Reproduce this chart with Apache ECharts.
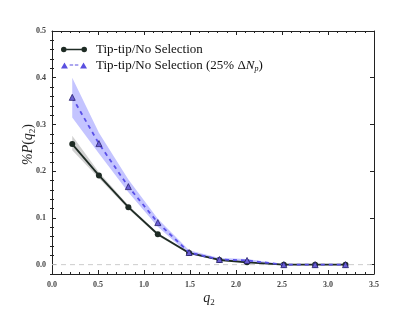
<!DOCTYPE html>
<html><head><meta charset="utf-8">
<script src="https://cdn.jsdelivr.net/npm/echarts@6/dist/echarts.min.js"></script>
<style>html,body{margin:0;padding:0;background:#fff}#c{width:415px;height:312px}</style>
</head><body><div id="c"></div>
<script>
const q2 = [0.22, 0.51, 0.83, 1.15, 1.49, 1.82, 2.12, 2.52, 2.86, 3.19];
const tipNoSel = [0.258, 0.191, 0.123, 0.065, 0.025, 0.010, 0.005, 0.000, 0.000, 0.000];
const tipNoSelLow = [0.245, 0.185, 0.119, 0.062, 0.023, 0.009, 0.004, 0.000, 0.000, 0.000];
const tipNoSelHigh = [0.276, 0.198, 0.127, 0.068, 0.027, 0.011, 0.006, 0.000, 0.000, 0.000];
const tipNp = [0.358, 0.259, 0.167, 0.090, 0.026, 0.011, 0.009, 0.000, 0.000, 0.000];
const tipNpLow = [0.315, 0.238, 0.155, 0.081, 0.022, 0.009, 0.005, 0.000, 0.000, 0.000];
const tipNpHigh = [0.400, 0.282, 0.182, 0.098, 0.031, 0.014, 0.012, 0.001, 0.001, 0.001];
const yMajor = [0, 0.1, 0.2, 0.3, 0.4, 0.5];
const yMinor = [-0.02,0.02,0.04,0.06,0.08,0.12,0.14,0.16,0.18,0.22,0.24,0.26,0.28,0.32,0.34,0.36,0.38,0.42,0.44,0.46,0.48];

const F = '"Liberation Serif", "DejaVu Serif", serif';
const pairs = (xs, ys) => xs.map((x, i) => [x, ys[i]]);

function bandSeries(low, high, color) {
  return {
    type: 'custom', silent: true, z: 1,
    data: [0],
    renderItem: function (params, api) {
      const pts = [];
      for (let i = 0; i < q2.length; i++) pts.push(api.coord([q2[i], high[i]]));
      for (let i = q2.length - 1; i >= 0; i--) pts.push(api.coord([q2[i], low[i]]));
      return {type: 'polygon', shape: {points: pts}, style: {fill: color}};
    }
  };
}

const iconCircle = 'path://M1,4a3,3 0 1,0 6,0a3,3 0 1,0 -6,0Z M7,3.2H23V4.8H7Z M23,4a3,3 0 1,0 6,0a3,3 0 1,0 -6,0Z';
const iconTri = 'path://M0,8L4,1L8,8Z M10,3.4H14V4.6H10Z M16,3.4H20V4.6H16Z M22,8L26,1L30,8Z';

const chart = echarts.init(document.getElementById('c'), null, {renderer: 'canvas'});
const ybase = {type: 'value', min: -0.02, max: 0.5, splitLine: {show: false}};
const tickC = '#222';
chart.setOption({
  animation: false,
  textStyle: {fontFamily: F},
  grid: {left: 52, right: 41, top: 31, bottom: 32},
  legend: {
    left: 56, top: 38, orient: 'vertical', itemWidth: 26, itemHeight: 7, itemGap: 3,
    data: [
      {name: 'Tip-tip/No Selection', icon: iconCircle, itemStyle: {color: '#1e2b24', borderWidth: 0}},
      {name: 'Tip-tip/No Selection (25% ΔNp)', icon: iconTri, itemStyle: {color: '#5a50e0', borderWidth: 0}}
    ],
    textStyle: {fontFamily: F, fontSize: 13, color: '#111', padding: [0,0,0,4],
      rich: {i: {fontFamily: F, fontStyle: 'italic', fontSize: 13, color: '#111'}, s: {fontFamily: F, fontStyle: 'italic', fontSize: 8, color: '#111', padding: [7,0,0,0]}, a: {fontFamily: F, fontSize: 13, color: '#111'}}},
    formatter: n => n === 'Tip-tip/No Selection' ? '{a|' + n + '}' : '{a|Tip-tip/No Selection (25% Δ}{i|N}{s|p}{a|)}'
  },
  xAxis: [
    {type: 'value', min: 0, max: 3.5, interval: 0.5, position: 'bottom',
     name: '{i|q}{s|2}', nameLocation: 'middle', nameGap: 16, nameMoveOverlap: false,
     nameTextStyle: {padding: [0, 8, 0, 0], rich: {i: {fontFamily: F, fontStyle: 'italic', fontSize: 14, color: '#222'}, s: {fontFamily: F, fontSize: 9, color: '#222', padding: [8,0,0,0]}}},
     axisLine: {show: true, onZero: false, lineStyle: {color: tickC, width: 1}},
     axisTick: {show: true, inside: true, length: 4, lineStyle: {color: tickC}},
     minorTick: {show: true, splitNumber: 5, length: 2, lineStyle: {color: tickC}},
     axisLabel: {fontFamily: F, fontSize: 8, fontWeight: 'bold', color: '#444', margin: 7, formatter: v => v.toFixed(1)},
     splitLine: {show: false}},
    {type: 'value', min: 0, max: 3.5, interval: 0.5, position: 'top',
     axisLine: {show: true, onZero: false, lineStyle: {color: tickC, width: 1}},
     axisTick: {show: true, inside: true, length: 4, lineStyle: {color: tickC}},
     minorTick: {show: true, splitNumber: 5, length: 2, lineStyle: {color: tickC}},
     axisLabel: {show: false}, splitLine: {show: false}}
  ],
  yAxis: [
    Object.assign({}, ybase, {position: 'left',
     name: '{p|%}{i|P}{a|(}{i|q}{s|2}{a|)}', nameLocation: 'middle', nameGap: 15, nameRotate: 90, nameMoveOverlap: false,
     nameTextStyle: {padding: [0, 0, 0, 16], rich: {p: {fontFamily: F, fontStyle: 'italic', fontSize: 14, color: '#222'}, i: {fontFamily: F, fontStyle: 'italic', fontSize: 14, color: '#222'}, a: {fontFamily: F, fontSize: 14, color: '#222'}, s: {fontFamily: F, fontSize: 9, color: '#222', padding: [8,0,0,0]}}},
     axisLine: {show: true, onZero: false, lineStyle: {color: tickC}},
     axisTick: {show: true, inside: true, length: 4, customValues: yMajor, lineStyle: {color: tickC}},
     axisLabel: {customValues: yMajor, fontFamily: F, fontSize: 8, fontWeight: 'bold', color: '#444', margin: 6, formatter: v => v.toFixed(1)}}),
    Object.assign({}, ybase, {position: 'left',
     axisLine: {show: false},
     axisTick: {show: true, inside: true, length: 2, customValues: yMinor, lineStyle: {color: tickC}},
     axisLabel: {show: false}}),
    Object.assign({}, ybase, {position: 'right',
     axisLine: {show: true, onZero: false, lineStyle: {color: tickC}},
     axisTick: {show: true, inside: true, length: 4, customValues: yMajor, lineStyle: {color: tickC}},
     axisLabel: {show: false}}),
    Object.assign({}, ybase, {position: 'right',
     axisLine: {show: false},
     axisTick: {show: true, inside: true, length: 2, customValues: yMinor, lineStyle: {color: tickC}},
     axisLabel: {show: false}})
  ],
  series: [
    bandSeries(tipNoSelLow, tipNoSelHigh, 'rgba(110,110,110,0.32)'),
    bandSeries(tipNpLow, tipNpHigh, 'rgba(100,100,255,0.38)'),
    {name: 'zero', type: 'line', data: [[0, 0], [3.5, 0]], symbol: 'none', lineStyle: {color: '#ccc', type: [5, 4], width: 1}, silent: true, z: 1},
    {name: 'Tip-tip/No Selection', type: 'line', data: pairs(q2, tipNoSel), symbol: 'circle', symbolSize: 6,
     itemStyle: {color: '#1e2b24'}, lineStyle: {color: '#1e2b24', width: 1.8}, z: 5},
    {name: 'Tip-tip/No Selection (25% ΔNp)', type: 'line', data: pairs(q2, tipNp), symbol: 'triangle', symbolSize: 6,
     itemStyle: {color: '#6a5fd6', borderColor: '#2a2270', borderWidth: 0.8}, lineStyle: {color: '#5a50e8', width: 1.8, type: [4, 4]}, z: 6}
  ]
});
</script></body></html>
